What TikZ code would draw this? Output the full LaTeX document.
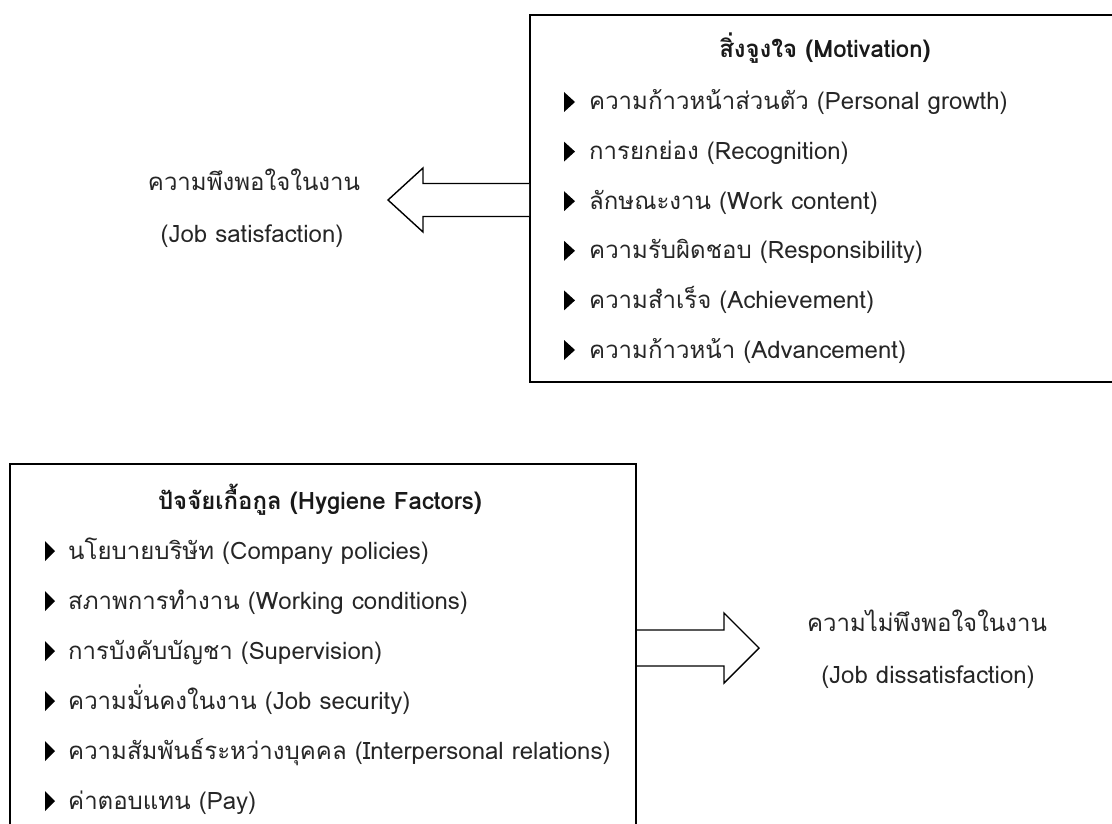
\documentclass[tikz,border=0pt]{standalone}
\usepackage{fontspec}
\newfontfamily\thaifont[Script=Thai]{Loma}
\usetikzlibrary{calc}
\begin{document}
\begin{tikzpicture}[x=1pt,y=-1pt,
  box/.style={draw, line width=2pt, inner sep=0pt, anchor=north west},
  itemtext/.style={anchor=base west, inner sep=0pt, text=black!85, font=\thaifont\fontsize{24}{26}\selectfont},
  titletext/.style={anchor=base, inner sep=0pt, text=black!90, font=\thaifont\fontsize{24}{26}\selectfont\bfseries},
  labeltext/.style={anchor=base, inner sep=0pt, text=black!85, font=\thaifont\fontsize{24}{26}\selectfont},
  bigarrow/.style={draw, fill=white, line width=1.4pt, line join=miter}]
\useasboundingbox (0,0) rectangle (1112,824);
\clip (0,0) rectangle (1112,824);

% boxes
\node[box, minimum width=620pt, minimum height=367pt] (mot) at (529,14) {};
\node[box, minimum width=626pt, minimum height=400pt] (hyg) at (9,463) {};

% titles
\node[titletext] (motT) at (825,58) {สิ่งจูงใจ (Motivation)};
\node[titletext] (hygT) at (320,509) {ปัจจัยเกื้อกูล (Hygiene Factors)};

% motivation items
\foreach \t [count=\i] in {ความก้าวหน้าส่วนตัว (Personal growth), การยกย่อง (Recognition), ลักษณะงาน (Work content), ความรับผิดชอบ (Responsibility), ความสำเร็จ (Achievement), ความก้าวหน้า (Advancement)}{
  \node[itemtext] (m\i) at (589,{102+49.6*(\i-1)+8}) {\t};
  \fill ($(m\i.base west)+(-25,-18)$) -- ++(0,20) -- ++(11,-10) -- cycle;
}
% hygiene items
\foreach \t [count=\i] in {นโยบายบริษัท (Company policies), สภาพการทำงาน (Working conditions), การบังคับบัญชา (Supervision), ความมั่นคงในงาน (Job security), ความสัมพันธ์ระหว่างบุคคล (Interpersonal relations), ค่าตอบแทน (Pay)}{
  \node[itemtext] (h\i) at (68,{551+50*(\i-1)+8}) {\t};
  \fill ($(h\i.base west)+(-23,-18)$) -- ++(0,20) -- ++(10,-10) -- cycle;
}

% outcome labels
\node[labeltext] (sat1) at (254,191) {ความพึงพอใจในงาน};
\node[labeltext] (sat2) at (252,243) {(Job satisfaction)};
\node[labeltext] (dis1) at (927,631) {ความไม่พึงพอใจในงาน};
\node[labeltext] (dis2) at (928,683) {(Job dissatisfaction)};

% arrows
\coordinate (tip1) at (388,200);
\coordinate (tip2) at (759,648);
\draw[bigarrow] (mot.north west |- 0,183.5) -- (423,183.5) -- (423,168) -- (tip1)
  -- (423,232) -- (423,216.5) -- (mot.north west |- 0,216.5);
\draw[bigarrow] (hyg.north east |- 0,630) -- (724,630) -- (724,613) -- (tip2)
  -- (724,683) -- (724,666) -- (hyg.north east |- 0,666);
\end{tikzpicture}
\end{document}
